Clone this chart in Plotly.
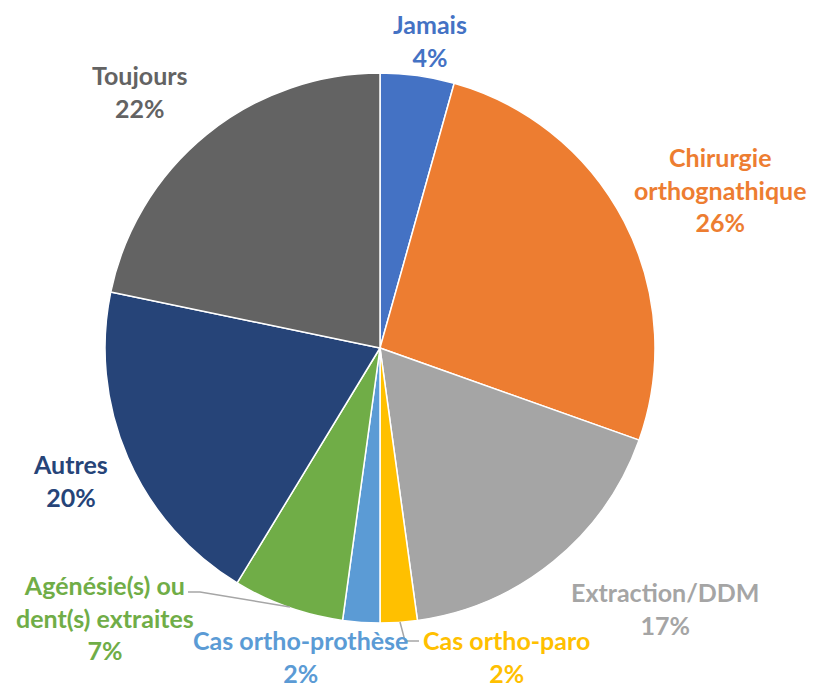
import plotly.graph_objects as go

W, H = 823, 687
OFF = 8  # page body margin
FW, FH = W - OFF, H - OFF

labels = ["Jamais", "Chirurgie orthognathique", "Extraction/DDM", "Cas ortho-paro",
          "Cas ortho-prothèse", "Agénésie(s) ou dent(s) extraites", "Autres", "Toujours"]
counts = [2, 12, 8, 1, 1, 3, 9, 10]
label_text = ["Jamais", "Chirurgie<br>orthognathique", "Extraction/DDM", "Cas ortho-paro",
              "Cas ortho-prothèse", "Agénésie(s) ou<br>dent(s) extraites", "Autres", "Toujours"]
colors = ["#4472C4", "#ED7D31", "#A5A5A5", "#FFC000",
          "#5B9BD5", "#70AD47", "#264478", "#636363"]

# label centres in screen pixels (x, y)
label_pos = [(430, 40), (720, 190), (665, 608), (506, 656),
             (300, 656), (105, 617), (70, 480), (140, 91)]


def px(x, y):
    return (x - OFF) / FW, 1 - (y - OFF) / FH


total = sum(counts)
x0, y1 = px(380 - 275, 73)
x1, y0 = px(380 + 275, 623)
fig = go.Figure(go.Pie(
    labels=labels,
    values=counts,
    sort=False,
    direction="clockwise",
    rotation=0,
    textinfo="none",
    hoverinfo="label+percent",
    marker=dict(colors=colors, line=dict(color="white", width=1.5)),
    domain=dict(x=[x0, x1], y=[y0, y1]),
    showlegend=False,
))

for txt, c, v, (x, y) in zip(label_text, colors, counts, label_pos):
    ax, ay = px(x, y)
    fig.add_annotation(
        x=ax, y=ay, xref="paper", yref="paper", showarrow=False,
        xanchor="center", yanchor="middle", borderpad=0,
        text="<b>%s<br>%d%%</b>" % (txt, round(100 * v / total)),
        font=dict(family="Lato", size=25, color=c), align="center",
    )


# leader lines
def path(points):
    pts = [px(*p) for p in points]
    return "M " + " L ".join("%f,%f" % p for p in pts)


for pts in [[(188, 592), (200, 592), (290, 607)], [(400, 622), (405, 641), (419, 641)]]:
    fig.add_shape(type="path", xref="paper", yref="paper", path=path(pts),
                  line=dict(color="#A6A6A6", width=1.5))

fig.update_layout(
    width=FW, height=FH,
    margin=dict(l=0, r=0, t=0, b=0),
    paper_bgcolor="white", plot_bgcolor="white",
)

fig.write_html("out.html")
